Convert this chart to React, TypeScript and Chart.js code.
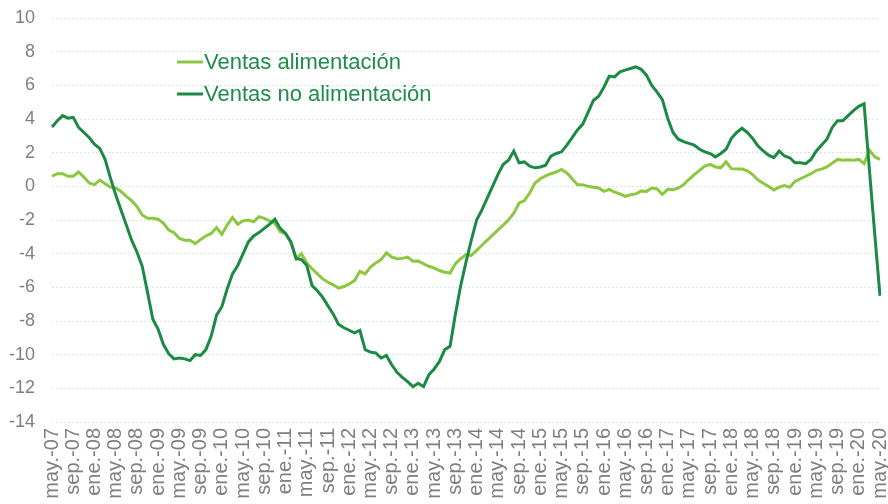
import React, { useEffect, useRef } from 'react';
import { Chart, registerables } from 'chart.js';

Chart.register(...registerables);

// Category labels: monthly from may-2007 to may-2020
const MONTH_NAMES = ['ene', 'feb', 'mar', 'abr', 'may', 'jun', 'jul', 'ago', 'sep', 'oct', 'nov', 'dic'];
const START_MONTH = 4; // may
const START_YEAR = 7; // 2007
const N_MONTHS = 157;
const categories: string[] = Array.from({ length: N_MONTHS }, (_, i) => {
  const m = START_MONTH + i;
  const yy = START_YEAR + Math.floor(m / 12);
  return `${MONTH_NAMES[m % 12]}.-${String(yy).padStart(2, '0')}`;
});
const LABEL_EVERY = 4;

const SERIES_NAMES = ['Ventas alimentación', 'Ventas no alimentación'];

const ventasAlimentacion = [
  0.6, 0.75, 0.75, 0.6, 0.6, 0.85, 0.55, 0.2, 0.1, 0.37,
  0.15, -0.05, -0.1, -0.3, -0.6, -0.85, -1.2, -1.7, -1.9, -1.9,
  -1.95, -2.2, -2.6, -2.75, -3.1, -3.2, -3.2, -3.4, -3.15, -2.95,
  -2.8, -2.45, -2.85, -2.3, -1.85, -2.25, -2.05, -2.0, -2.1, -1.8,
  -1.9, -2.05, -2.2, -2.7, -2.8, -3.3, -4.3, -4.0, -4.55, -4.9,
  -5.2, -5.5, -5.7, -5.85, -6.05, -5.95, -5.8, -5.6, -5.05, -5.2,
  -4.8, -4.55, -4.35, -3.95, -4.2, -4.3, -4.28, -4.2, -4.45, -4.44,
  -4.6, -4.75, -4.85, -5.0, -5.1, -5.15, -4.6, -4.3, -4.05, -4.1,
  -3.8, -3.5, -3.2, -2.9, -2.6, -2.3, -2.0, -1.6, -1.0, -0.85,
  -0.4, 0.2, 0.45, 0.62, 0.75, 0.85, 1.0, 0.8, 0.45, 0.1,
  0.1, 0.0, -0.05, -0.1, -0.3, -0.18, -0.35, -0.45, -0.6, -0.5,
  -0.45, -0.28, -0.3, -0.1, -0.15, -0.48, -0.18, -0.2, -0.1, 0.1,
  0.42, 0.7, 0.95, 1.2, 1.3, 1.15, 1.1, 1.45, 1.05, 1.03,
  1.03, 0.92, 0.7, 0.38, 0.18, 0.0, -0.22, -0.05, 0.05, -0.05,
  0.3, 0.45, 0.6, 0.75, 0.95, 1.02, 1.15, 1.38, 1.6, 1.55,
  1.58, 1.55, 1.6, 1.35, 2.15, 1.76, 1.6,
];

const ventasNoAlimentacion = [
  3.52, 3.9, 4.2, 4.05, 4.1, 3.5, 3.2, 2.9, 2.5, 2.25,
  1.6, 0.5, -0.5, -1.4, -2.3, -3.2, -3.9, -4.75, -6.3, -7.9,
  -8.5, -9.4, -9.95, -10.25, -10.2, -10.25, -10.35, -10.0, -10.05, -9.7,
  -8.9, -7.65, -7.15, -6.1, -5.2, -4.7, -4.0, -3.3, -2.95, -2.75,
  -2.5, -2.25, -1.95, -2.5, -2.8, -3.3, -4.3, -4.35, -4.7, -5.9,
  -6.2, -6.6, -7.1, -7.6, -8.2, -8.4, -8.55, -8.7, -8.55, -9.7,
  -9.85, -9.9, -10.2, -10.05, -10.6, -11.05, -11.35, -11.6, -11.9, -11.7,
  -11.9, -11.2, -10.85, -10.4, -9.7, -9.5, -7.6, -5.9, -4.5, -3.2,
  -2.0, -1.4, -0.7, 0.0, 0.7, 1.3, 1.55, 2.1, 1.4, 1.45,
  1.2, 1.1, 1.15, 1.25, 1.8, 1.95, 2.05, 2.45, 2.9, 3.35,
  3.7, 4.4, 5.1, 5.35, 5.9, 6.55, 6.5, 6.8, 6.9, 7.0,
  7.1, 6.95, 6.6, 6.0, 5.6, 5.15, 4.05, 3.2, 2.8, 2.65,
  2.55, 2.45, 2.2, 2.05, 1.95, 1.75, 1.95, 2.2, 2.85, 3.2,
  3.45, 3.2, 2.85, 2.4, 2.1, 1.85, 1.7, 2.1, 1.8, 1.7,
  1.4, 1.4, 1.35, 1.6, 2.1, 2.45, 2.8, 3.5, 3.9, 3.9,
  4.2, 4.5, 4.75, 4.9, 1.0, -2.8, -6.5,
];

const Y_MIN = -14;
const Y_MAX = 10;
const Y_STEP = 2;

const COLOR_LIGHT = '#8dc63f';
const COLOR_DARK = '#1a8a45';
const LEGEND_TEXT = '#1f8c4d';
const TICK_COLOR = '#7f7f7f';
const GRID_COLOR = '#d6ead6';
const FONT = "'Liberation Sans', Arial, sans-serif";

const insideLegend = {
  id: 'insideLegend',
  afterDraw(chart: any) {
    const { ctx, chartArea } = chart;
    const x0 = chartArea.left + 125;
    const rows = [chartArea.top + 44, chartArea.top + 76];
    ctx.save();
    ctx.font = `22px ${FONT}`;
    ctx.textBaseline = 'middle';
    ctx.textAlign = 'left';
    chart.data.datasets.forEach((ds: any, i: number) => {
      const y = rows[i];
      ctx.strokeStyle = ds.borderColor;
      ctx.lineWidth = 3;
      ctx.beginPath();
      ctx.moveTo(x0, y);
      ctx.lineTo(x0 + 26, y);
      ctx.stroke();
      ctx.fillStyle = LEGEND_TEXT;
      ctx.fillText(ds.label, x0 + 27, y + 1);
    });
    ctx.restore();
  },
};

export default function App() {
  const canvasRef = useRef<HTMLCanvasElement | null>(null);

  useEffect(() => {
    if (!canvasRef.current) return;
    const chart = new Chart(canvasRef.current, {
      type: 'line',
      data: {
        labels: categories,
        datasets: [
          {
            label: SERIES_NAMES[0],
            data: ventasAlimentacion,
            borderColor: COLOR_LIGHT,
            backgroundColor: COLOR_LIGHT,
            borderWidth: 3,
            pointRadius: 0,
            tension: 0,
            order: 1,
          },
          {
            label: SERIES_NAMES[1],
            data: ventasNoAlimentacion,
            borderColor: COLOR_DARK,
            backgroundColor: COLOR_DARK,
            borderWidth: 3,
            pointRadius: 0,
            tension: 0,
            order: 0,
          },
        ],
      },
      options: {
        responsive: false,
        maintainAspectRatio: false,
        animation: false,
        layout: { padding: { top: 18, right: 8, left: 0, bottom: 0 } },
        plugins: {
          legend: { display: false },
          tooltip: { enabled: false },
        },
        scales: {
          x: {
            type: 'category',
            offset: false,
            grid: { display: false, drawTicks: false },
            border: { display: false },
            ticks: {
              autoSkip: false,
              maxRotation: 90,
              minRotation: 90,
              padding: 6,
              color: TICK_COLOR,
              font: { family: FONT, size: 20 },
              callback: function (this: any, val: any, idx: number) {
                return idx % LABEL_EVERY === 0 ? this.getLabelForValue(val) : '';
              },
            },
            afterFit: (scale: any) => {
              scale.height = 82;
              scale.paddingLeft = 0;
              scale.paddingRight = 0;
            },
          },
          y: {
            min: Y_MIN,
            max: Y_MAX,
            grid: { color: GRID_COLOR, lineWidth: 1, drawTicks: false },
            border: { display: false, dash: [2, 2] },
            ticks: {
              stepSize: Y_STEP,
              padding: 17,
              color: TICK_COLOR,
              font: { family: FONT, size: 18 },
            },
            afterFit: (scale: any) => {
              scale.width = 52;
              scale.paddingTop = 0;
              scale.paddingBottom = 0;
            },
          },
        },
      },
      plugins: [insideLegend],
    });
    return () => chart.destroy();
  }, []);

  return (
    <div style={{ position: 'fixed', left: 0, top: 0, width: 888, height: 504, background: '#fff' }}>
      <canvas ref={canvasRef} width={888} height={504} />
    </div>
  );
}
